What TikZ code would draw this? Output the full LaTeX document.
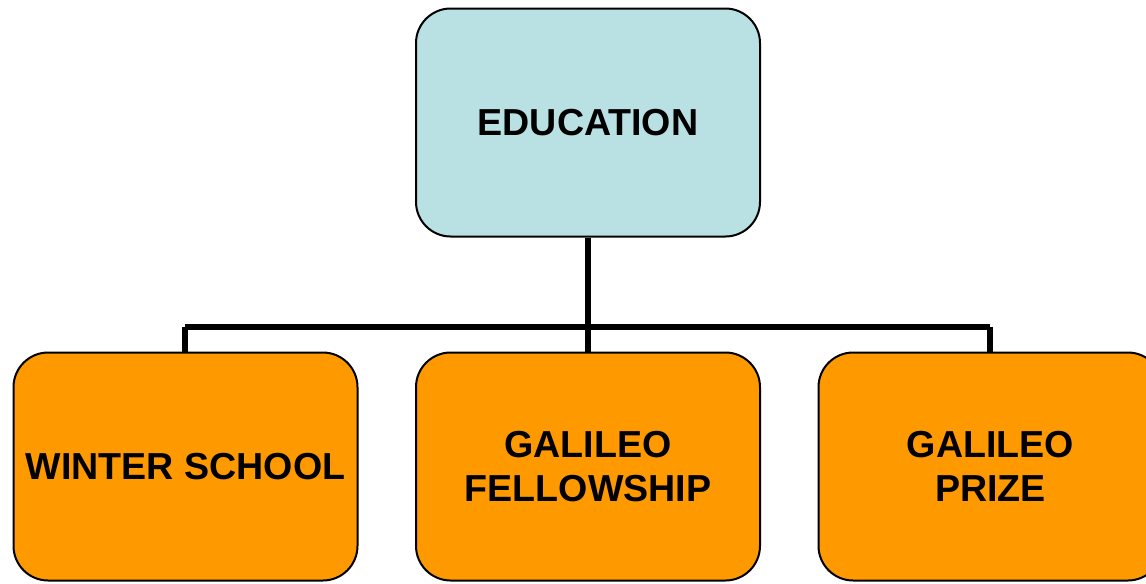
\documentclass[tikz,border=0pt]{standalone}
\usepackage{fontspec}
\setmainfont{Liberation Sans}
\definecolor{edublue}{HTML}{B9E0E3}
\definecolor{orangebox}{HTML}{FF9900}
\begin{document}
\begin{tikzpicture}[x=0.75pt,y=-0.75pt,
  box/.style={draw=black,line width=1.5pt,rounded corners=26pt,minimum width=258pt,minimum height=171pt,inner sep=0pt,align=center,font=\fontsize{28.2}{33}\selectfont\bfseries},
  edubox/.style={box,fill=edublue},
  subbox/.style={box,fill=orangebox},
  link/.style={line width=4.8pt}]
\useasboundingbox (0,0) rectangle (1146,583);
\clip (0,0) rectangle (1146,583);
\node[edubox] (edu) at (588,122.5) {EDUCATION};
\node[subbox] (win) at (185.5,466.5) {WINTER SCHOOL};
\node[subbox] (fel) at (588,466.5) {GALILEO\ \\FELLOWSHIP};
\node[subbox] (pri) at (990.5,466.5) {GALILEO\ \\PRIZE};
\coordinate (j) at (588,327);
\coordinate (jl) at (185,327);
\coordinate (jr) at (990,327);
\draw[link] (edu.south) -- (j);
\draw[link] (jl) -- (jr);
\draw[link] (jl) -- (jl |- win.north);
\draw[link] (j) -- (fel.north);
\draw[link] (jr) -- (jr |- pri.north);
\end{tikzpicture}
\end{document}
